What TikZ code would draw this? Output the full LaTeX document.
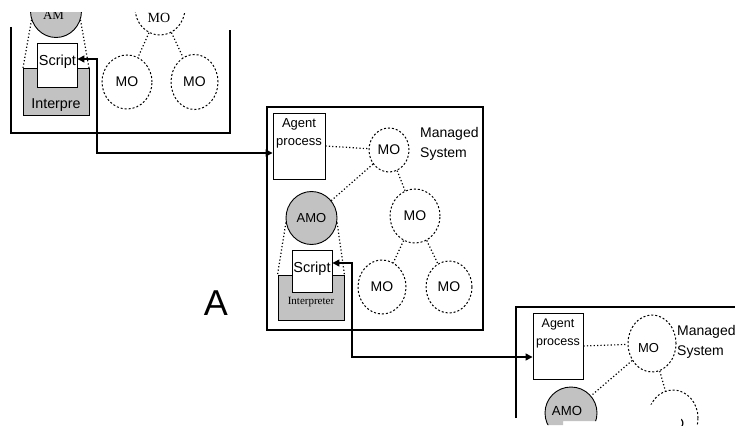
\documentclass[tikz,border=0pt]{standalone}
\usepackage{fontspec}
\setmainfont{Liberation Sans}
\newfontfamily\romanface{Liberation Serif}
\usetikzlibrary{shapes.geometric,arrows.meta}
\definecolor{shade}{RGB}{194,194,194}
\tikzset{
  frame/.style={line width=1.8pt, line join=miter},
  boxed/.style={draw, line width=0.9pt, inner sep=0pt},
  mo/.style={ellipse, draw, dash pattern=on 2pt off 2pt, line width=1pt, inner sep=0pt,
             font=\fontsize{14}{14}\selectfont},
  amo/.style={ellipse, draw, fill=shade, line width=0.9pt, inner sep=0pt,
              font=\fontsize{13}{13}\selectfont},
  dots/.style={dash pattern=on 1.2pt off 2.2pt, line width=1.2pt},
  link/.style={line width=1.3pt,
               {Triangle[length=7pt,width=7pt]}-{Triangle[length=7pt,width=7pt]}},
  lbl/.style={inner sep=0pt, anchor=base},
  lblw/.style={inner sep=0pt, anchor=base west},
}
\begin{document}
\begin{tikzpicture}[x=1pt,y=-1pt]
\fill[white] (0,0) rectangle (735,425);
\useasboundingbox (0,0) rectangle (735,425);

% ---------- upper left system (cut at the top) ----------
\begin{scope}
\clip (0,13) rectangle (245,140);
\draw[frame] (11,27) -- (11,133) -- (230,133) -- (230,30);
\node[amo, minimum width=51pt, minimum height=53pt] (amoT) at (56,11) {};
\node[lbl, font=\romanface\fontsize{13}{13}\selectfont] (amoTtxt) at (53.5,20) {AM};
\node[mo, minimum width=50pt, minimum height=54pt] (moT2) at (160,8) {};
\node[lbl, font=\romanface\fontsize{14}{14}\selectfont] (moT2txt) at (159,23) {MO};
\node[mo, minimum width=50pt, minimum height=54pt] (moT3) at (127,82) {MO};
\node[mo, minimum width=47pt, minimum height=55pt] (moT4) at (194.5,82) {MO};
\draw[dots] (moT2) -- (moT3);
\draw[dots] (moT2) -- (moT4);
\draw[dots] (amoT.200) -- (23,68);
\draw[dots] (amoT.340) -- (89,68);
\node[boxed, fill=shade, minimum width=66pt, minimum height=47pt] (intT) at (56,91.5) {};
\node[lbl, font=\fontsize{14.3}{14.3}\selectfont] (intTtxt) at (56,109) {Interpre};
\node[boxed, fill=white, minimum width=40pt, minimum height=44pt] (scrT) at (57,65) {};
\node[lbl, font=\fontsize{14.5}{14.5}\selectfont] (scrTtxt) at (57.5,66) {Script};
\end{scope}

% ---------- middle system ----------
\draw[frame] (267,107) rectangle (483,330);
\node[boxed, minimum width=52pt, minimum height=66pt] (agentM) at (299,146) {};
\node[lbl, font=\fontsize{13}{13}\selectfont] (agentMa) at (299,128) {Agent};
\node[lbl, font=\fontsize{13}{13}\selectfont] (agentMb) at (299,145) {process};
\node[mo, minimum width=40pt, minimum height=44pt] (moM1) at (389,150) {MO};
\node[lblw, font=\fontsize{14}{14}\selectfont] (msMa) at (420,137) {Managed};
\node[lblw, font=\fontsize{14}{14}\selectfont] (msMb) at (420,157) {System};
\node[amo, minimum width=51pt, minimum height=53pt] (amoM) at (311.5,218) {AMO};
\node[mo, minimum width=50pt, minimum height=54pt] (moM2) at (415,216) {MO};
\node[mo, minimum width=48pt, minimum height=54pt] (moM3) at (382,287) {MO};
\node[mo, minimum width=46pt, minimum height=52pt] (moM4) at (449,287) {MO};
\draw[dots] (agentM.east) -- (moM1);
\draw[dots] (moM1) -- (amoM);
\draw[dots] (moM1) -- (moM2);
\draw[dots] (moM2) -- (moM3);
\draw[dots] (moM2) -- (moM4);
\node[boxed, fill=shade, minimum width=66pt, minimum height=45pt] (intM) at (311,297.5) {};
\draw[dots] (amoM.190) -- (intM.north west);
\draw[dots] (amoM.350) -- (intM.north east);
\node[lbl, font=\romanface\fontsize{11}{11}\selectfont] (intMtxt) at (311,304.5) {Interpreter};
\node[boxed, fill=white, minimum width=40pt, minimum height=42pt] (scrM) at (312,271) {};
\node[lbl, font=\fontsize{14.5}{14.5}\selectfont] (scrMtxt) at (312,272) {Script};

% ---------- lower right system (cut at the edges) ----------
\begin{scope}
\clip (505,295) -- (735,295) -- (735,425) -- (681,425) -- (681,414) -- (656,403)
      -- (600,421) -- (563,421) -- (563,425) -- (505,425) -- cycle;
\draw[frame] (516,418) -- (516,307) -- (740,307);
\node[boxed, minimum width=50pt, minimum height=66pt] (agentB) at (558,346) {};
\node[lbl, font=\fontsize{12.5}{12.5}\selectfont] (agentBa) at (558,327) {Agent};
\node[lbl, font=\fontsize{12.5}{12.5}\selectfont] (agentBb) at (558,345) {process};
\node[mo, minimum width=48pt, minimum height=57pt] (moB1) at (652,343.5) {};
\node[lbl, font=\fontsize{13}{13}\selectfont] (moB1txt) at (648.5,352) {MO};
\node[lblw, font=\fontsize{14}{14}\selectfont] (msBa) at (677,335) {Managed};
\node[lblw, font=\fontsize{14}{14}\selectfont] (msBb) at (677,355) {System};
\node[amo, minimum width=52pt, minimum height=52pt] (amoB) at (571,413) {};
\node[lbl, font=\fontsize{13.2}{13.2}\selectfont] (amoBtxt) at (567,415) {AMO};
\node[mo, minimum width=50pt, minimum height=56pt] (moB2) at (673,418) {};
\node[lbl, font=\fontsize{14}{14}\selectfont] (moB2txt) at (673,428) {MO};
\draw[dots] (agentB.east) -- (moB1);
\draw[dots] (moB1) -- (amoB);
\draw[dots] (moB1) -- (moB2);
\end{scope}

% ---------- script-to-agent links ----------
\coordinate (bT1) at (97,59);
\coordinate (bT2) at (97,153);
\draw[link] (scrT.east |- bT1) -- (bT1) -- (bT2) -- (agentM.west |- bT2);
\coordinate (bM1) at (352,263);
\coordinate (bM2) at (352,357);
\draw[link] (scrM.east |- bM1) -- (bM1) -- (bM2) -- (agentB.west |- bM2);

\node[inner sep=0pt, font=\fontsize{36}{36}\selectfont] (lblA) at (216,303) {A};
\end{tikzpicture}
\end{document}
